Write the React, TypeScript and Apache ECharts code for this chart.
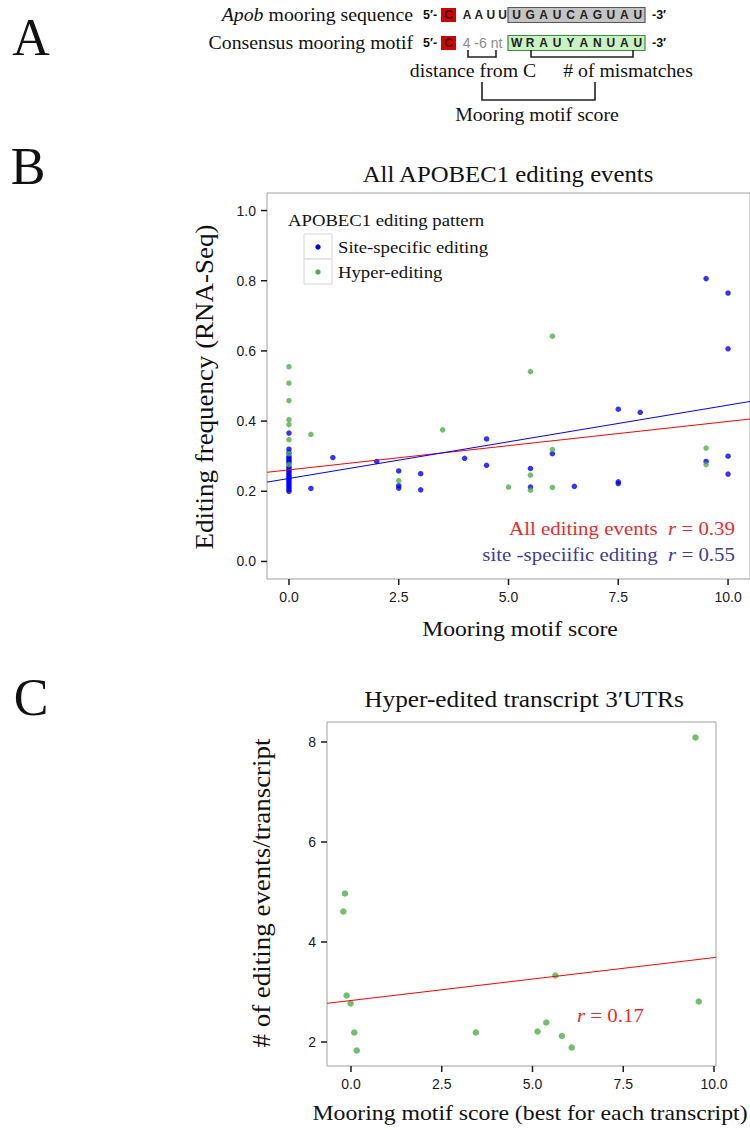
import React, { useEffect, useRef } from "react";
import * as echarts from "echarts";

// ---------- Panel B data: all APOBEC1 editing events ----------
const siteSpecificX = [
  0, 0, 0, 0, 0, 0, 0, 0, 0, 0, 0, 0, 0, 0, 0, 0, 0, 0, 0, 0, 0, 0, 0,
  0.5, 1.0, 2.0, 2.5, 2.5, 2.5, 3.0, 3.0, 4.0, 4.5, 4.5, 5.5, 5.5, 6.0, 6.5,
  7.5, 7.5, 7.5, 8.0, 9.5, 9.5, 10, 10, 10, 10,
];
const siteSpecificY = [
  0.366, 0.32, 0.31, 0.3, 0.295, 0.29, 0.285, 0.28, 0.27, 0.265, 0.26, 0.255,
  0.25, 0.245, 0.24, 0.235, 0.23, 0.225, 0.22, 0.215, 0.21, 0.205, 0.2,
  0.208, 0.296, 0.285, 0.258, 0.216, 0.209, 0.25, 0.204, 0.294, 0.349, 0.274,
  0.265, 0.212, 0.307, 0.214, 0.434, 0.227, 0.222, 0.425, 0.806, 0.285, 0.765,
  0.606, 0.3, 0.249,
];
const hyperEditingX = [
  0, 0, 0, 0, 0, 0, 0, 0, 0.5, 2.5, 3.5, 5.0, 5.5, 5.5, 5.5, 6.0, 6.0, 6.0,
  9.5, 9.5,
];
const hyperEditingY = [
  0.555, 0.508, 0.458, 0.404, 0.39, 0.347, 0.307, 0.276, 0.362, 0.23, 0.375,
  0.212, 0.541, 0.246, 0.203, 0.642, 0.319, 0.211, 0.323, 0.276,
];
// linear fits (intercept, slope)
const allEventsFit = [0.261, 0.0138];
const siteSpecificFit = [0.2365, 0.0209];
const panelBXTicks = [0, 2.5, 5, 7.5, 10];
const panelBYTicks = [0, 0.2, 0.4, 0.6, 0.8, 1.0];

// ---------- Panel C data: hyper-edited transcript 3'UTRs ----------
const transcriptScore = [
  -0.21, -0.165, 9.49, -0.12, -0.01, 0.09, 0.16, 3.44, 5.14, 5.38, 5.63, 5.81,
  6.08, 9.58,
];
const eventsPerTranscript = [
  4.61, 4.97, 8.09, 2.93, 2.77, 2.19, 1.83, 2.19, 2.21, 2.39, 3.33, 2.12, 1.89,
  2.81,
];
const transcriptFit = [2.83, 0.0858];
const panelCXTicks = [0, 2.5, 5, 7.5, 10];
const panelCYTicks = [2, 4, 6, 8];

// ---------- Panel A sequences ----------
const leaderLetters = ["A", "A", "U", "U"];
const apobLetters = ["U", "G", "A", "U", "C", "A", "G", "U", "A", "U"];
const consensusLetters = ["W", "R", "A", "U", "Y", "A", "N", "U", "A", "U"];

const SERIF = "Liberation Serif";
const SANS = "Liberation Sans";

function serif(
  text: string,
  x: number,
  y: number,
  size: number,
  opts: any = {}
): any {
  const align = opts.align || "center";
  return {
    type: "text",
    x,
    y,
    rotation: opts.rotation || 0,
    scaleX: opts.scaleX ?? 1.1,
    silent: true,
    z: 20,
    style: {
      text,
      fontFamily: opts.family || SERIF,
      fontSize: size,
      fontStyle: opts.italic ? "italic" : "normal",
      fontWeight: opts.bold ? "bold" : "normal",
      fill: opts.fill || "#111",
      align,
      textAlign: align,
      verticalAlign: "middle",
      textVerticalAlign: "middle",
      rich: opts.rich,
    },
  };
}

function fitLine(fit: number[], x0: number, x1: number) {
  return [
    [x0, fit[0] + fit[1] * x0],
    [x1, fit[0] + fit[1] * x1],
  ];
}

function zip(xs: number[], ys: number[]) {
  return xs.map((x, i) => [x, ys[i]]);
}

function panelAGraphics(): any[] {
  const els: any[] = [];
  const rows = [15, 43];
  els.push(
    serif("{i|Apob} mooring sequence", 413, rows[0], 18, {
      align: "right",
      rich: { i: { fontStyle: "italic", fontFamily: SERIF, fontSize: 18, fill: "#111" } },
    })
  );
  els.push(serif("Consensus mooring motif", 413, rows[1], 18, { align: "right" }));
  rows.forEach((ry) => {
    els.push(serif("5′-", 423, ry, 12.5, { align: "left", family: SANS, bold: true, scaleX: 1 }));
    els.push(serif("-3′", 652, ry, 12.5, { align: "left", family: SANS, bold: true, scaleX: 1 }));
    els.push({
      type: "rect",
      shape: { x: 441, y: ry - 7, width: 15, height: 14 },
      style: { fill: "#d40000" },
      silent: true,
      z: 10,
    });
    els.push(serif("C", 448.5, ry, 12, { family: SANS, bold: true, fill: "#2a0000", scaleX: 1 }));
  });
  leaderLetters.forEach((l, i) => {
    els.push(serif(l, 467 + i * 11.9, rows[0], 12, { family: SANS, bold: true, fill: "#222", scaleX: 1 }));
  });
  els.push(serif("4 -6 nt", 482.5, rows[1], 14, { family: SANS, fill: "#8c8c8c", scaleX: 1 }));
  els.push({
    type: "rect",
    shape: { x: 508, y: rows[0] - 7.5, width: 137, height: 15 },
    style: { fill: "#c4c4c4", stroke: "#555", lineWidth: 1.2 },
    silent: true,
    z: 10,
  });
  els.push({
    type: "rect",
    shape: { x: 508, y: rows[1] - 7.5, width: 137, height: 15 },
    style: { fill: "#c9f2c4", stroke: "#3c8c3c", lineWidth: 1.2 },
    silent: true,
    z: 10,
  });
  apobLetters.forEach((l, i) => {
    els.push(serif(l, 516.7 + i * 13.45, rows[0], 12, { family: SANS, bold: true, fill: "#222", scaleX: 1 }));
  });
  consensusLetters.forEach((l, i) => {
    els.push(serif(l, 516.7 + i * 13.45, rows[1], 12, { family: SANS, bold: true, fill: "#222", scaleX: 1 }));
  });
  const bracket = (pts: number[][]) => ({
    type: "polyline",
    shape: { points: pts },
    style: { stroke: "#222", lineWidth: 1.6, fill: null },
    silent: true,
    z: 10,
  });
  els.push(bracket([[468, 50], [468, 57], [496, 57], [496, 50]]));
  els.push(bracket([[531, 50], [531, 57], [633, 57], [633, 50]]));
  els.push(bracket([[482, 82], [482, 100], [595, 100], [595, 82]]));
  els.push(serif("distance from C", 473, 71, 18));
  els.push(serif("# of mismatches", 628, 71, 18));
  els.push(serif("Mooring motif score", 537, 115, 18));
  return els;
}

function legendGraphics(): any[] {
  const els: any[] = [];
  els.push(serif("APOBEC1 editing pattern", 288, 220, 17, { align: "left" }));
  const keys = [
    { label: "Site-specific editing", color: "#0000ff", top: 234 },
    { label: "Hyper-editing", color: "#4daf4a", top: 259 },
  ];
  keys.forEach((k) => {
    els.push({
      type: "rect",
      shape: { x: 304, y: k.top, width: 28, height: 25 },
      style: { fill: "#fff", stroke: "#d6d6d6", lineWidth: 1 },
      silent: true,
      z: 10,
    });
    els.push({
      type: "circle",
      shape: { cx: 318, cy: k.top + 13, r: 2.7 },
      style: { fill: k.color },
      silent: true,
      z: 11,
    });
    els.push(serif(k.label, 338, k.top + 13.5, 17, { align: "left" }));
  });
  return els;
}

export default function App() {
  const ref = useRef<HTMLDivElement>(null);

  useEffect(() => {
    if (!ref.current) return;
    const chart = echarts.init(ref.current, null, { renderer: "svg" });

    const bXMin = -0.5;
    const bXMax = 10.5;
    const bYMin = -0.05;
    const bYMax = 1.05;
    const cXMin = -0.66;
    const cXMax = 10.055;
    const cYMin = 1.52;
    const cYMax = 8.4;

    const labelStyle = { fontFamily: SANS, fontSize: 14, color: "#1a1a1a" };
    const hiddenLine = { show: false, onZero: false };

    const axisBase = (gridIndex: number, min: number, max: number, ticks: number[], fmt: (v: number) => string) => ({
      gridIndex,
      type: "value",
      min,
      max,
      axisLine: hiddenLine,
      splitLine: { show: false },
      axisTick: { show: false },
      axisLabel: {
        ...labelStyle,
        margin: 11,
        customValues: ticks,
        formatter: fmt,
      },
    });

    const baseGraphics: any[] = [
      serif("A", 31, 37, 52, { scaleX: 1 }),
      serif("B", 28, 166, 52, { scaleX: 1 }),
      serif("C", 31, 697, 52, { scaleX: 1 }),
      ...panelAGraphics(),
      serif("All APOBEC1 editing events", 508, 174, 22.5),
      serif("Mooring motif score", 520, 629, 21.5),
      serif("Editing frequency (RNA-Seq)", 205, 387, 24.5, { rotation: Math.PI / 2 }),
      ...legendGraphics(),
      serif("All editing events  {i|r} = 0.39", 735, 528, 19, {
        align: "right",
        fill: "#ee2a2a",
        rich: { i: { fontStyle: "italic", fontFamily: SERIF, fontSize: 19, fill: "#ee2a2a" } },
      }),
      serif("site -speciific editing  {i|r} = 0.55", 735, 554, 19, {
        align: "right",
        fill: "#3b3ba0",
        rich: { i: { fontStyle: "italic", fontFamily: SERIF, fontSize: 19, fill: "#3b3ba0" } },
      }),
      serif("Hyper-edited transcript 3′UTRs", 524, 699, 23),
      serif("# of editing events/transcript", 262, 893, 24.5, { rotation: Math.PI / 2 }),
      serif("Mooring motif score (best for each transcript)", 530, 1113, 21.6),
      serif("{i|r} = 0.17", 577, 1015, 19, {
        align: "left",
        fill: "#ee2a2a",
        rich: { i: { fontStyle: "italic", fontFamily: SERIF, fontSize: 19, fill: "#ee2a2a" } },
      }),
    ];

    const option: any = {
      animation: false,
      backgroundColor: "#ffffff",
      grid: [
        {
          left: 267,
          top: 193,
          width: 490,
          height: 386,
          show: true,
          borderColor: "#a0a0a0",
          borderWidth: 1,
          backgroundColor: "transparent",
        },
        {
          left: 327,
          top: 722,
          width: 389,
          height: 344,
          show: true,
          borderColor: "#a0a0a0",
          borderWidth: 1,
          backgroundColor: "transparent",
        },
      ],
      xAxis: [
        { ...axisBase(0, bXMin, bXMax, panelBXTicks, (v) => v.toFixed(1)), position: "bottom" },
        { ...axisBase(1, cXMin, cXMax, panelCXTicks, (v) => v.toFixed(1)), position: "bottom" },
      ],
      yAxis: [
        { ...axisBase(0, bYMin, bYMax, panelBYTicks, (v) => v.toFixed(1)), position: "left" },
        { ...axisBase(1, cYMin, cYMax, panelCYTicks, (v) => String(Math.round(v))), position: "left" },
      ],
      series: [
        {
          name: "Site-specific editing",
          type: "scatter",
          xAxisIndex: 0,
          yAxisIndex: 0,
          data: zip(siteSpecificX, siteSpecificY),
          symbolSize: 5.5,
          itemStyle: { color: "#0000ff" },
          z: 2,
        },
        {
          name: "Hyper-editing",
          type: "scatter",
          xAxisIndex: 0,
          yAxisIndex: 0,
          data: zip(hyperEditingX, hyperEditingY),
          symbolSize: 5.5,
          itemStyle: { color: "#4daf4a" },
          z: 3,
        },
        {
          name: "All editing events fit",
          type: "line",
          xAxisIndex: 0,
          yAxisIndex: 0,
          data: fitLine(allEventsFit, bXMin, bXMax),
          showSymbol: false,
          symbol: "none",
          lineStyle: { color: "#ff0000", width: 1 },
          z: 4,
        },
        {
          name: "Site-specific fit",
          type: "line",
          xAxisIndex: 0,
          yAxisIndex: 0,
          data: fitLine(siteSpecificFit, bXMin, bXMax),
          showSymbol: false,
          symbol: "none",
          lineStyle: { color: "#0000ff", width: 1 },
          z: 4,
        },
        {
          name: "Hyper-edited transcripts",
          type: "scatter",
          xAxisIndex: 1,
          yAxisIndex: 1,
          data: zip(transcriptScore, eventsPerTranscript),
          symbolSize: 6.5,
          itemStyle: { color: "#4daf4a" },
          z: 3,
        },
        {
          name: "Transcript fit",
          type: "line",
          xAxisIndex: 1,
          yAxisIndex: 1,
          data: fitLine(transcriptFit, cXMin, cXMax),
          showSymbol: false,
          symbol: "none",
          lineStyle: { color: "#ff0000", width: 1 },
          z: 4,
        },
      ],
      graphic: baseGraphics,
    };

    chart.setOption(option);

    // outward tick marks, positioned through the library's own axis scales
    const tickEls: any[] = [];
    const addTicks = (gridIndex: number, dir: "x" | "y", values: number[], anchor: number) => {
      values.forEach((v) => {
        const p = chart.convertToPixel({ gridIndex }, dir === "x" ? [v, anchor] : [anchor, v]) as number[];
        if (!p) return;
        const shape =
          dir === "x"
            ? { x1: p[0], y1: p[1], x2: p[0], y2: p[1] + 6 }
            : { x1: p[0] - 6, y1: p[1], x2: p[0], y2: p[1] };
        tickEls.push({
          type: "line",
          shape,
          style: { stroke: "#1a1a1a", lineWidth: 1.5 },
          silent: true,
          z: 30,
        });
      });
    };
    addTicks(0, "x", panelBXTicks, bYMin);
    addTicks(0, "y", panelBYTicks, bXMin);
    addTicks(1, "x", panelCXTicks, cYMin);
    addTicks(1, "y", panelCYTicks, cXMin);

    chart.setOption({ graphic: [...baseGraphics, ...tickEls] });

    return () => chart.dispose();
  }, []);

  return (
    <div
      ref={ref}
      style={{
        position: "absolute",
        left: 0,
        top: 0,
        width: 750,
        height: 1130,
        background: "#ffffff",
      }}
    />
  );
}
